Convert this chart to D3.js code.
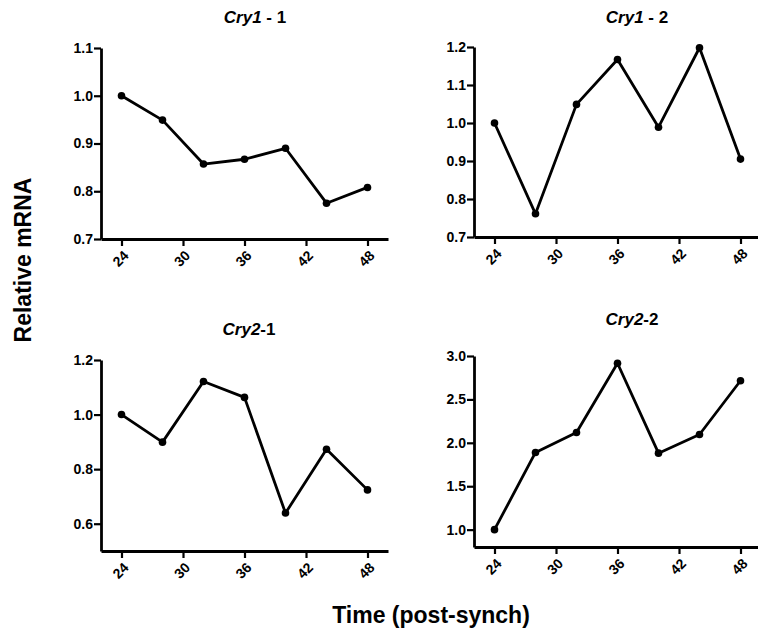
<!DOCTYPE html>
<html>
<meta charset="utf-8">
<head>
<script src="https://d3js.org/d3.v7.min.js"></script>
<style>
  body { margin: 0; background: #fff; }
  svg text { font-family: Arial, "Liberation Sans", sans-serif; font-weight: bold; fill: #000; }
</style>
</head>
<body>
<script>
// data
var times = [24, 28, 32, 36, 40, 44, 48];
var xTicks = [24, 30, 36, 42, 48];

var cry1_1 = [1.000, 0.949, 0.857, 0.867, 0.890, 0.775, 0.808];
var cry1_2 = [1.000, 0.761, 1.049, 1.167, 0.989, 1.198, 0.905];
var cry2_1 = [1.000, 0.899, 1.121, 1.063, 0.639, 0.873, 0.724];
var cry2_2 = [1.000, 1.889, 2.119, 2.916, 1.881, 2.096, 2.715];

var yTicks1_1 = [0.7, 0.8, 0.9, 1.0, 1.1];
var yTicks1_2 = [0.7, 0.8, 0.9, 1.0, 1.1, 1.2];
var yTicks2_1 = [0.6, 0.8, 1.0, 1.2];
var yTicks2_2 = [1.0, 1.5, 2.0, 2.5, 3.0];

var width = 758, height = 633;

var svg = d3.select("body").append("svg")
  .attr("width", width)
  .attr("height", height);

// one entry per panel: layout + which arrays to use
var panels = [
  { gene: "Cry1", suffix: " - 1", values: cry1_1, yTicks: yTicks1_1, yDomain: [0.7, 1.1],
    left: 101, right: 388, top: 48, bottom: 239, titleX: 255, titleY: 23 },
  { gene: "Cry1", suffix: " - 2", values: cry1_2, yTicks: yTicks1_2, yDomain: [0.7, 1.2],
    left: 474, right: 761, top: 47, bottom: 237, titleX: 637, titleY: 23 },
  { gene: "Cry2", suffix: "-1", values: cry2_1, yTicks: yTicks2_1, yDomain: [0.5, 1.2],
    left: 101, right: 388, top: 360, bottom: 551, titleX: 249, titleY: 335 },
  { gene: "Cry2", suffix: "-2", values: cry2_2, yTicks: yTicks2_2, yDomain: [0.8, 3.0],
    left: 474, right: 761, top: 356, bottom: 547, titleX: 632, titleY: 325 }
];

panels.forEach(function (p) {
  var x = d3.scaleLinear().domain([22, 50]).range([p.left, p.right]);
  var y = d3.scaleLinear().domain(p.yDomain).range([p.bottom, p.top]);

  var g = svg.append("g");

  // y axis
  var ya = g.append("g")
    .attr("transform", "translate(" + p.left + ",0)")
    .call(d3.axisLeft(y).tickValues(p.yTicks).tickSize(7).tickPadding(1)
      .tickSizeOuter(0).tickFormat(d3.format(".1f")));
  ya.select(".domain").attr("stroke-width", 2.8);
  ya.selectAll(".tick line").attr("stroke-width", 2.2);
  ya.selectAll(".tick text").attr("font-size", 14).attr("font-family", null);

  // x axis, labels turned 45 degrees
  var xa = g.append("g")
    .attr("transform", "translate(0," + p.bottom + ")")
    .call(d3.axisBottom(x).tickValues(xTicks).tickSize(7).tickSizeOuter(0));
  xa.select(".domain").attr("stroke-width", 2.8);
  xa.selectAll(".tick line").attr("stroke-width", 2.2);
  xa.selectAll(".tick text")
    .attr("font-size", 14)
    .attr("font-family", null)
    .attr("x", 0).attr("y", 0).attr("dy", "0.35em")
    .attr("text-anchor", "end")
    .attr("transform", "translate(4,14) rotate(-45)");

  // line + dots
  var line = d3.line()
    .x(function (d, i) { return x(times[i]); })
    .y(function (d) { return y(d); });

  g.append("path")
    .datum(p.values)
    .attr("fill", "none")
    .attr("stroke", "#000")
    .attr("stroke-width", 2.8)
    .attr("stroke-linejoin", "round")
    .attr("d", line);

  g.selectAll("circle")
    .data(p.values)
    .join("circle")
    .attr("cx", function (d, i) { return x(times[i]); })
    .attr("cy", function (d) { return y(d); })
    .attr("r", 3.8)
    .attr("fill", "#000");

  // title, gene name in italic
  var t = svg.append("text")
    .attr("x", p.titleX)
    .attr("y", p.titleY)
    .attr("text-anchor", "middle")
    .attr("font-size", 17);
  t.append("tspan").attr("font-style", "italic").text(p.gene);
  t.append("tspan").text(p.suffix);
});

// shared axis titles
svg.append("text")
  .attr("transform", "translate(31,260) rotate(-90)")
  .attr("text-anchor", "middle")
  .attr("font-size", 23)
  .text("Relative mRNA");

svg.append("text")
  .attr("x", 431)
  .attr("y", 623)
  .attr("text-anchor", "middle")
  .attr("font-size", 23)
  .text("Time (post-synch)");
</script>
</body>
</html>
